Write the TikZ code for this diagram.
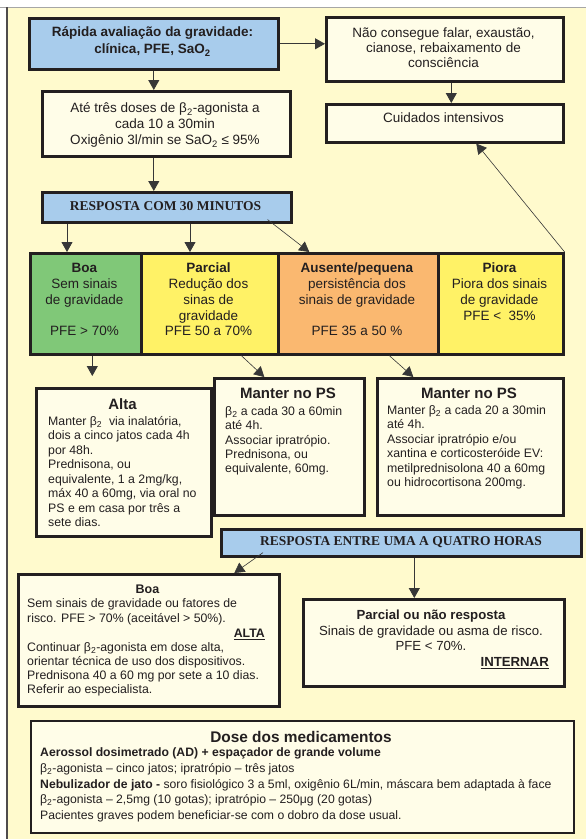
\documentclass[tikz,border=0pt]{standalone}
\usepackage{fontspec}
\setmainfont{Liberation Sans}
\newfontfamily\serifbold{Liberation Serif}
\usetikzlibrary{arrows.meta}
\definecolor{bgY}{RGB}{255,250,205}
\definecolor{creamC}{RGB}{255,253,232}
\definecolor{blueC}{RGB}{168,204,236}
\definecolor{greenC}{RGB}{128,200,120}
\definecolor{yellowC}{RGB}{255,242,102}
\definecolor{orangeC}{RGB}{250,184,112}
\definecolor{edgeC}{RGB}{35,31,32}
\definecolor{lineC}{RGB}{55,55,55}
\definecolor{txtC}{RGB}{35,31,32}
\newcommand{\fz}[2]{\fontsize{#1}{#2}\selectfont}
\newcommand{\bsub}{β\textsubscript{2}}
\tikzset{
  boxs/.style={draw=edgeC, line width=2.6pt, inner sep=0pt, anchor=north west},
  txt/.style={inner sep=0pt, text=txtC},
  arr/.style={draw=lineC, line width=0.9pt, -{Triangle[width=11pt,length=10pt]}},
}
\begin{document}
\begin{tikzpicture}[x=1pt,y=-1pt]
\useasboundingbox (0,0) rectangle (586,839);
\fill[bgY] (7,7) rectangle (586,839);
\draw[gray!70, line width=1pt] (0,7) -- (586,7);
\draw[edgeC!80, line width=1.2pt] (7,7) -- (7,839);

% boxes
\node[boxs, fill=blueC,  minimum width=249pt, minimum height=51pt] (rapida) at (28,17) {};
\node[boxs, fill=creamC, minimum width=237pt, minimum height=64pt] (naocons) at (325,16) {};
\node[boxs, fill=creamC, minimum width=237pt, minimum height=38pt] (cuidados) at (325,103) {};
\node[boxs, fill=creamC, minimum width=248pt, minimum height=65pt] (ate) at (41,90) {};
\node[boxs, fill=blueC,  minimum width=249pt, minimum height=30pt] (resp30) at (41,191) {};
\node[boxs, fill=greenC, minimum width=111pt, minimum height=101pt] (boa) at (29,252) {};
\node[boxs, fill=yellowC, minimum width=137pt, minimum height=101pt] (parcial) at (140,252) {};
\node[boxs, fill=orangeC, minimum width=160pt, minimum height=101pt] (ausente) at (277,252) {};
\node[boxs, fill=yellowC, minimum width=125pt, minimum height=101pt] (piora) at (437,252) {};
\node[boxs, fill=creamC, minimum width=175pt, minimum height=148pt] (alta) at (35,387) {};
\node[boxs, fill=creamC, minimum width=150pt, minimum height=137pt] (manter1) at (213,377) {};
\node[boxs, fill=creamC, minimum width=186pt, minimum height=137pt] (manter2) at (376,377) {};
\node[boxs, fill=blueC,  minimum width=360pt, minimum height=27pt] (respH) at (220,528) {};
\node[boxs, fill=creamC, minimum width=261pt, minimum height=132pt] (boa2) at (17,573) {};
\node[boxs, fill=creamC, minimum width=261pt, minimum height=87pt] (parcial2) at (302,598) {};
\node[boxs, fill=creamC, minimum width=543pt, minimum height=112pt, line width=1.6pt] (dose) at (30,720) {};

% texts
\node[txt, anchor=north, align=center, font=\fz{13.5}{17}\bfseries] (t-rapida) at (152.5,24.8)
  {\strut Rápida avaliação da gravidade:\\clínica, PFE, SaO\textsubscript{2}};
\node[txt, anchor=north, align=center, font=\fz{13.5}{15}] (t-naocons) at (443.5,27.2)
  {\strut Não consegue falar, exaustão,\\cianose, rebaixamento de\\consciência};
\node[txt, anchor=north, align=center, font=\fz{13.5}{16}] (t-cuid) at (443.5,111.5)
  {\strut Cuidados intensivos};
\node[txt, anchor=north, align=center, font=\fz{13.5}{16}] (t-ate) at (165,101.5)
  {\strut Até três doses de \bsub-agonista a\\cada 10 a 30min\\Oxigênio 3l/min se SaO\textsubscript{2} ≤ 95\%};
\node[txt, anchor=base, font=\fz{13.5}{16}\serifbold\bfseries] (t-resp30) at (165.5,210.5)
  {RESPOSTA COM 30 MINUTOS};

\node[txt, anchor=north, align=center, font=\fz{13.5}{15.75}] (t-boa) at (84.5,261.7)
  {\strut\textbf{Boa}\\Sem sinais\\de gravidade\\\mbox{}\\PFE > 70\%};
\node[txt, anchor=north, align=center, font=\fz{13.5}{15.75}] (t-parcial) at (208.5,261.7)
  {\strut\textbf{Parcial}\\Redução dos\\sinas de\\gravidade\\PFE 50 a 70\%};
\node[txt, anchor=north, align=center, font=\fz{13.5}{15.75}] (t-ausente) at (357,261.7)
  {\strut\textbf{Ausente/pequena}\\persistência dos\\sinais de gravidade\\\mbox{}\\PFE 35 a 50 \%};
\node[txt, anchor=north, align=center, font=\fz{13.5}{15.75}] (t-piora) at (499.5,261.7)
  {\strut\textbf{Piora}\\Piora dos sinais\\de gravidade\\PFE <~~35\%};

\node[txt, anchor=base, font=\fz{15}{18}\bfseries] (t-alta-h) at (122.5,409.4) {Alta};
\node[txt, anchor=north west, align=left, font=\fz{12.3}{14.43}] (t-alta) at (48,415.2)
  {\strut Manter \bsub{}~~via inalatória,\\dois a cinco jatos cada 4h\\por 48h.\\Prednisona, ou\\equivalente, 1 a 2mg/kg,\\máx 40 a 60mg, via oral no\\PS e em casa por três a\\sete dias.};

\node[txt, anchor=base, font=\fz{15}{18}\bfseries] (t-m1-h) at (288,398.4) {Manter no PS};
\node[txt, anchor=north west, align=left, font=\fz{12.3}{14.3}] (t-m1) at (225,405.2)
  {\strut\bsub{} a cada 30 a 60min\\até 4h.\\Associar ipratrópio.\\Prednisona, ou\\equivalente, 60mg.};

\node[txt, anchor=base, font=\fz{15}{18}\bfseries] (t-m2-h) at (469,398.4) {Manter no PS};
\node[txt, anchor=north west, align=left, font=\fz{12.3}{14.4}] (t-m2) at (387,404.2)
  {\strut Manter \bsub{} a cada 20 a 30min\\até 4h.\\Associar ipratrópio e/ou\\xantina e corticosteróide EV:\\metilprednisolona 40 a 60mg\\ou hidrocortisona 200mg.};

\node[txt, anchor=base, font=\fz{13.5}{16}\serifbold\bfseries] (t-respH) at (401,545.5)
  {RESPOSTA ENTRE UMA A QUATRO HORAS};

\node[txt, anchor=base, font=\fz{12.5}{15}\bfseries] (t-boa2-h) at (147.5,593.5) {Boa};
\node[txt, anchor=north west, align=left, font=\fz{12.3}{15}] (t-boa2a) at (27,596.8)
  {\strut Sem sinais de gravidade ou fatores de\\risco. PFE > 70\% (aceitável > 50\%).};
\node[txt, anchor=base east, font=\fz{12.3}{15}\bfseries] (t-alta2) at (265,637.3) {\underline{ALTA}};
\node[txt, anchor=north west, align=left, font=\fz{12.3}{14}] (t-boa2b) at (27,641.5)
  {\strut Continuar \bsub-agonista em dose alta,\\orientar técnica de uso dos dispositivos.\\Prednisona 40 a 60 mg por sete a 10 dias.\\Referir ao especialista.};

\node[txt, anchor=north, align=center, font=\fz{13.2}{15.5}] (t-parcial2) at (431,608.8)
  {\strut\textbf{Parcial ou não resposta}\\Sinais de gravidade ou asma de risco.\\PFE < 70\%.};
\node[txt, anchor=base east, font=\fz{13.2}{15.5}\bfseries] (t-intern) at (549,666.7) {\underline{INTERNAR}};

\node[txt, anchor=base, font=\fz{15.4}{18}\bfseries] (t-dose-h) at (301,742.5) {Dose dos medicamentos};
\node[txt, anchor=north west, align=left, font=\fz{12.2}{15.75}] (t-dose) at (40,745.3)
  {\strut\textbf{Aerossol dosimetrado (AD) + espaçador de grande volume}\\
   \bsub-agonista – cinco jatos; ipratrópio – três jatos\\
   \textbf{Nebulizador de jato -} soro fisiológico 3 a 5ml, oxigênio 6L/min, máscara bem adaptada à face\\
   \bsub-agonista – 2,5mg (10 gotas); ipratrópio – 250μg (20 gotas)\\
   Pacientes graves podem beneficiar-se com o dobro da dose usual.};

% connectors
\draw[arr] (rapida.east) -- (naocons.west |- rapida.east);
\draw[arr] ([xshift=6.5pt]naocons.south) -- ([xshift=6.5pt]cuidados.north);
\draw[arr] (rapida.south) -- (rapida.south |- ate.north);
\draw[arr] (rapida.south |- ate.south) -- (rapida.south |- resp30.north);
\draw[arr] ([xshift=26pt]resp30.south west) -- ([xshift=26pt]resp30.south west |- boa.north);
\draw[arr] ([xshift=149pt]resp30.south west) -- ([xshift=149pt]resp30.south west |- parcial.north);
\draw[arr, line width=0.6pt] ([xshift=-25pt,yshift=4pt]resp30.south east) -- ([xshift=-49pt]ausente.north);
\draw[arr, line width=0.6pt] (piora.north east) -- ([xshift=31.5pt]cuidados.south);
\draw[arr, shorten >=11pt] ([xshift=6.5pt]boa.south) -- ([xshift=6.5pt]boa.south |- alta.north);
\draw[arr, line width=0.6pt] ([xshift=31.5pt]parcial.south) -- ([xshift=-25pt]manter1.north);
\draw[arr, line width=0.6pt] ([xshift=31pt]ausente.south) -- ([xshift=-57pt]manter2.north);
\draw[arr, line width=0.6pt] ([xshift=43pt,yshift=5pt]respH.south west) -- ([xshift=85.5pt]boa2.north);
\draw[arr] ([xshift=13pt]respH.south) -- ([xshift=13pt]respH.south |- parcial2.north);
\end{tikzpicture}
\end{document}
